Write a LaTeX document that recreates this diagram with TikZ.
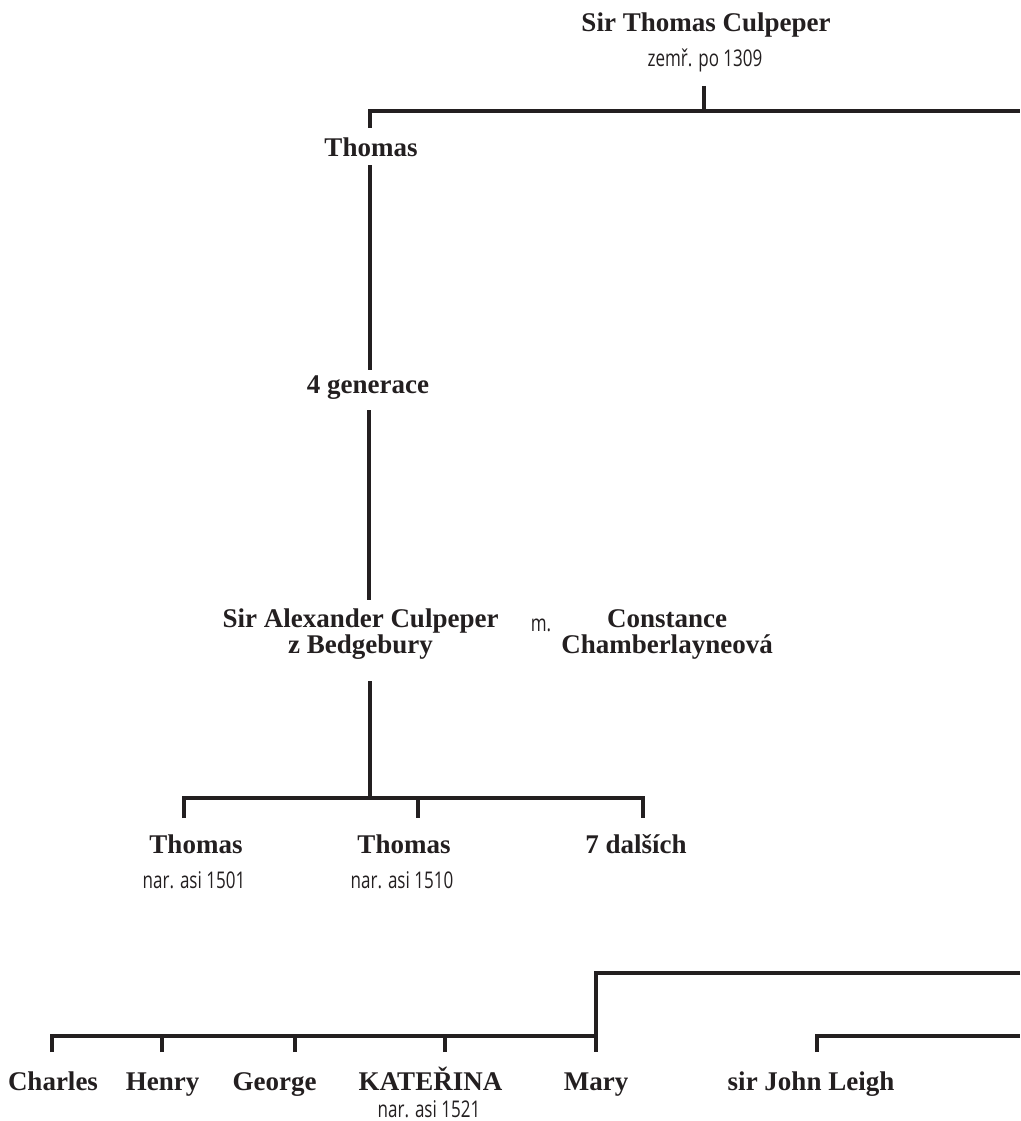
\documentclass[tikz,border=0pt]{standalone}
\usepackage{fontspec}
\setmainfont{Liberation Serif}
\newfontfamily\smallsans[FakeStretch=0.74]{Open Sans}
\definecolor{ink}{HTML}{231F20}
\begin{document}
\begin{tikzpicture}[x=1pt,y=-1pt,
  person/.style={font=\fontsize{27}{25.5}\selectfont\bfseries, text=ink, inner sep=0pt, anchor=base, align=center},
  note/.style={font=\fontsize{23}{23}\selectfont\smallsans, text=ink, inner sep=0pt, anchor=base},
  link/.style={draw=ink, line width=3.1pt}]
\useasboundingbox (0,0) rectangle (1020,1121);

% people
\node[person] (stc) at (706,32) {Sir Thomas Culpeper};
\node[note] (stcd) at (705,67) {zemř. po 1309};
\node[person] (th) at (371,157) {Thomas};
\node[person] (gen) at (368,393) {4 generace};
\node[person] (alex) at (360.5,653) {Sir Alexander Culpeper\\z Bedgebury};
\node[note] (m) at (541,631) {m.};
\node[person] (con) at (667,653) {Constance\\Chamberlayneová};
\node[person] (t1) at (196,853) {Thomas};
\node[note] (t1d) at (194,888) {nar. asi 1501};
\node[person] (t2) at (404,853) {Thomas};
\node[note] (t2d) at (402,888) {nar. asi 1510};
\node[person] (d7) at (636,853) {7 dalších};
\node[person] (ch) at (53,1090) {Charles};
\node[person] (he) at (162.5,1090) {Henry};
\node[person] (ge) at (274.5,1090) {George};
\node[person] (ka) at (430.5,1090) {KATEŘINA};
\node[note] (kad) at (429,1117) {nar. asi 1521};
\node[person] (ma) at (596,1090) {Mary};
\node[person] (jl) at (811,1090) {sir John Leigh};

% junction coordinates
\coordinate (stcB) at (704,86);
\coordinate (j1) at (704,111);
\coordinate (j1L) at (370,111);
\coordinate (j1R) at (1020,111);
\coordinate (thT) at (370,128);
\coordinate (thB) at (370,165);
\coordinate (genT) at (370,370);
\coordinate (genB) at (369,410);
\coordinate (alexT) at (369,600);
\coordinate (alexB) at (370,681);
\coordinate (j2) at (370,798);
\coordinate (j2L) at (184,798);
\coordinate (j2M) at (418,798);
\coordinate (j2R) at (643,798);
\coordinate (t1T) at (184,818);
\coordinate (t2T) at (418,818);
\coordinate (d7T) at (643,818);
\coordinate (j3R) at (1020,973);
\coordinate (j3) at (596,973);
\coordinate (maT) at (596,1052);
\coordinate (j4) at (596,1036);
\coordinate (j4L) at (52,1036);
\coordinate (chT) at (52,1052);
\coordinate (heT) at (162,1052);
\coordinate (geT) at (295,1052);
\coordinate (kaT) at (445,1052);
\coordinate (j5L) at (817,1036);
\coordinate (j5R) at (1020,1036);
\coordinate (jlT) at (817,1052);

% connectors
\draw[link] (stcB) -- (j1);
\draw[link] (thT) -- (j1L) -- (j1R);
\draw[link] (thB) -- (genT);
\draw[link] (genB) -- (alexT);
\draw[link] (alexB) -- (j2);
\draw[link] (t1T) -- (j2L) -- (j2R) -- (d7T);
\draw[link] (j2M) -- (t2T);
\draw[link] (j3R) -- (j3) -- (maT);
\draw[link] (chT) -- (j4L) -- (j4);
\draw[link] (heT) -- (heT |- j4);
\draw[link] (geT) -- (geT |- j4);
\draw[link] (kaT) -- (kaT |- j4);
\draw[link] (jlT) -- (j5L) -- (j5R);
\end{tikzpicture}
\end{document}
